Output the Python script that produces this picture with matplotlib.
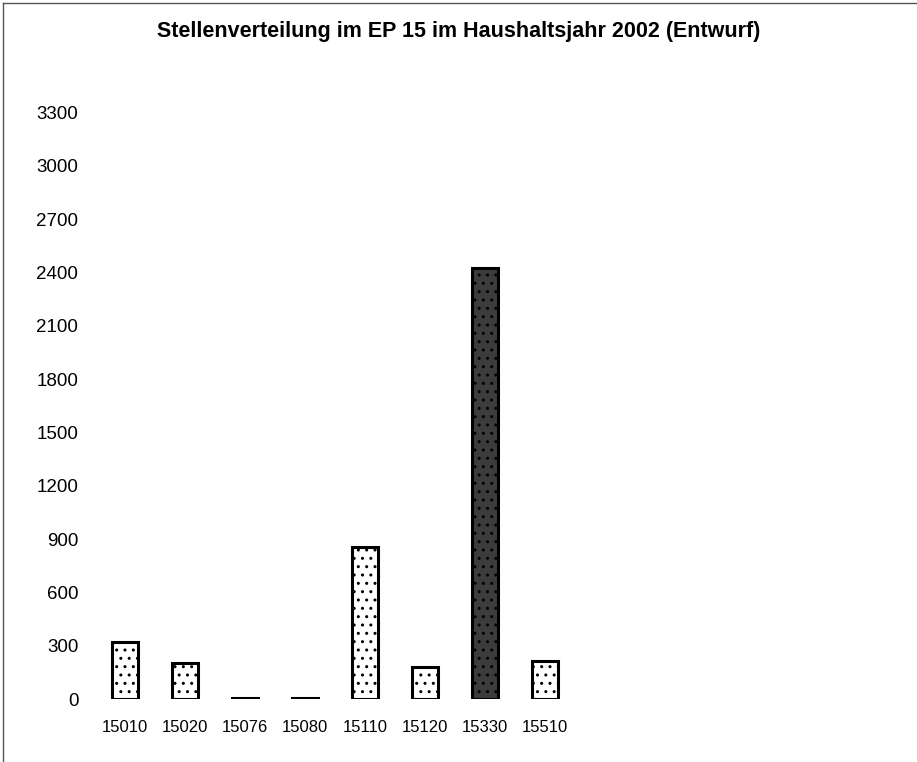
import matplotlib.pyplot as plt
from matplotlib.lines import Line2D

# Daten
kapitel = ['15010', '15020', '15076', '15080', '15110', '15120', '15330', '15510']
stellen = [318, 203, 8, 7, 855, 182, 2426, 212]
y_ticks = [0, 300, 600, 900, 1200, 1500, 1800, 2100, 2400, 2700, 3000, 3300]

titel = 'Stellenverteilung im EP 15 im Haushaltsjahr 2002 (Entwurf)'

plt.rcParams['font.family'] = ['Liberation Sans', 'DejaVu Sans']

fig = plt.figure(figsize=(9.17, 7.62), dpi=100)
ax = fig.add_axes([95 / 917, 1 - 699 / 762, (875 - 95) / 917, (699 - 86) / 762])

x = list(range(len(kapitel)))
farben = ['white'] * len(kapitel)
farben[6] = '#3c3c3c'
bars = ax.bar(x, stellen, width=0.44, color=farben, edgecolor='black',
              linewidth=2.2, hatch='..')

ax.set_xlim(-0.5, 12.5)
ax.set_ylim(0, 3450)
ax.set_yticks(y_ticks)
ax.set_yticklabels([str(v) for v in y_ticks], fontsize=13.5)
ax.set_xticks(x)
ax.set_xticklabels(kapitel, fontsize=12)
ax.tick_params(axis='y', length=0, pad=12)
ax.tick_params(axis='x', length=0, pad=15)
for s in ax.spines.values():
    s.set_visible(False)

fig.text(0.5, 1 - 31 / 762, titel, ha='center', va='center',
         fontsize=15.5, fontweight='bold')

# Rahmen links und oben
fig.add_artist(Line2D([3 / 917, 3 / 917], [0, 1 - 3 / 762], color='#555555', lw=1))
fig.add_artist(Line2D([3 / 917, 1], [1 - 3 / 762, 1 - 3 / 762], color='#555555', lw=1))

fig.savefig('out.png', dpi=100)
